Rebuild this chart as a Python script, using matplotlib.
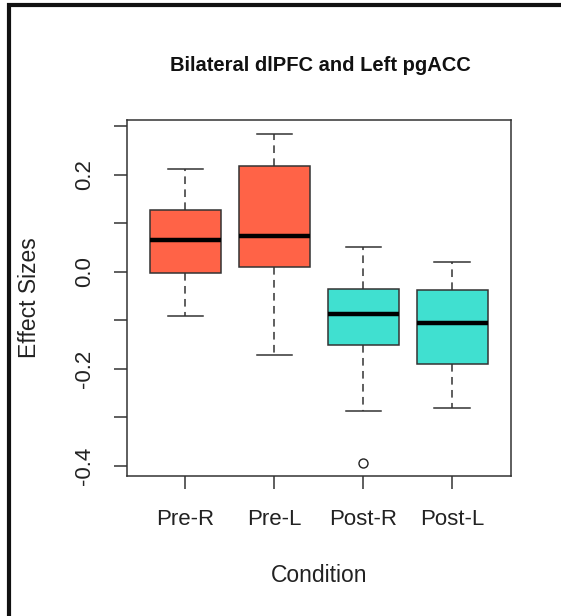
import matplotlib
matplotlib.use('Agg')
import matplotlib.pyplot as plt
from matplotlib.patches import Rectangle

# Data (effect sizes per condition)

conditions = ['Pre-R', 'Pre-L', 'Post-R', 'Post-L']
whisk_lo = [-0.091, -0.172, -0.287, -0.280]
q1 = [-0.003, 0.009, -0.151, -0.191]
medians = [0.065, 0.074, -0.088, -0.106]
q3 = [0.128, 0.218, -0.035, -0.038]
whisk_hi = [0.213, 0.285, 0.052, 0.020]
outliers = [[], [], [-0.394], []]
box_colors = ['#FF6347', '#FF6347', '#40E0D0', '#40E0D0']

yticks = [-0.4, -0.3, -0.2, -0.1, 0.0, 0.1, 0.2, 0.3]
ytick_labels = ['-0.4', '', '-0.2', '', '0.0', '', '0.2', '']

plt.rcParams['font.family'] = ['Liberation Sans', 'DejaVu Sans']

W, H = 561, 616
fig = plt.figure(figsize=(W / 100, H / 100), dpi=100)

# Outer frame (right and bottom edges fall outside the picture)
fig.patches.append(Rectangle((9 / W, -0.05), 1.1, 1 - 5.5 / H + 0.05,
                             transform=fig.transFigure, fill=False,
                             edgecolor='#111111', linewidth=3, clip_on=False))

ax = fig.add_axes([126.7 / W, 140 / H, (511 - 126.7) / W, (476 - 120) / H])

stats = []
for i in range(len(conditions)):
	stats.append({'med': medians[i], 'q1': q1[i], 'q3': q3[i],
				  'whislo': whisk_lo[i], 'whishi': whisk_hi[i],
				  'fliers': outliers[i], 'label': conditions[i]})

edge = '#333333'
bp = ax.bxp(stats, positions=range(1, len(conditions) + 1), widths=0.8,
			patch_artist=True,
			boxprops=dict(edgecolor=edge, linewidth=1.1),
			medianprops=dict(color='black', linewidth=3.2, solid_capstyle='butt'),
			whiskerprops=dict(color=edge, linewidth=1.1, linestyle=(0, (5, 3.5))),
			capprops=dict(color=edge, linewidth=1.1),
			flierprops=dict(marker='o', markersize=6.5, markerfacecolor='none',
							markeredgecolor='#222222', markeredgewidth=1.0),
			capwidths=0.4)
for patch, c in zip(bp['boxes'], box_colors):
	patch.set_facecolor(c)

ax.set_xlim(0.34, 4.66)
ax.set_ylim(-0.421, 0.313)
ax.set_yticks(yticks)
ax.set_yticklabels(ytick_labels, rotation=90, va='center')
ax.set_xticks(range(1, len(conditions) + 1))
ax.set_xticklabels(conditions)

for s in ax.spines.values():
	s.set_color('#333333')
	s.set_linewidth(1.1)
ax.tick_params(axis='both', length=9.5, width=1.1, color='#333333',
			   labelsize=16, labelcolor='#222222')
ax.tick_params(axis='y', pad=13)
ax.tick_params(axis='x', pad=14)

fig.text(320.8 / W, 1 - 65.7 / H, 'Bilateral dlPFC and Left pgACC',
		 ha='center', va='center', fontsize=14.5, fontweight='bold', color='#111111')
fig.text(318.9 / W, 1 - 576 / H, 'Condition', ha='center', va='center',
		 fontsize=16.5, color='#222222')
fig.text(29 / W, 1 - 298 / H, 'Effect Sizes', ha='center', va='center',
		 rotation=90, fontsize=16.5, color='#222222')

fig.savefig('out.png', dpi=100)
